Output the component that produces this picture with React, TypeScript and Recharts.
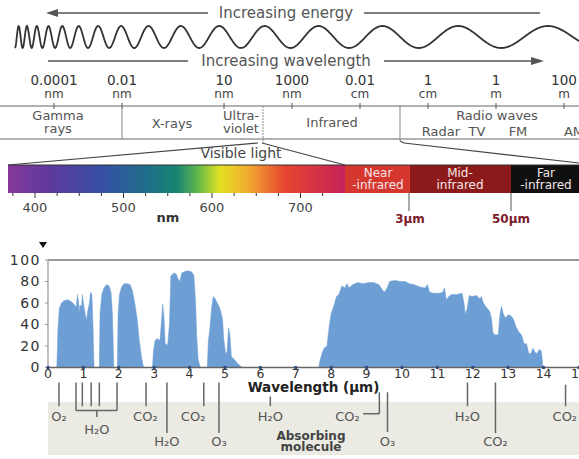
import React from "react";
import { AreaChart, Area, XAxis, YAxis, ReferenceLine, ReferenceDot } from "recharts";

// atmospheric transmission
const wavelengthUm = [
  0, 0.25, 0.28, 0.32, 0.38, 0.45, 0.55, 0.62, 0.7, 0.78, 0.8, 0.83, 0.86, 0.88, 0.9, 0.95, 0.97, 1.0,
  1.05, 1.09, 1.12, 1.17, 1.2, 1.24, 1.27, 1.3, 1.45, 1.47, 1.52, 1.58, 1.65, 1.72, 1.78, 1.82, 1.86,
  1.96, 1.98, 2.02, 2.08, 2.15, 2.25, 2.32, 2.38, 2.45, 2.52, 2.58, 2.65, 2.7, 2.95, 2.98, 3.02, 3.1,
  3.16, 3.2, 3.24, 3.28, 3.31, 3.38, 3.43, 3.47, 3.55, 3.62, 3.68, 3.72, 3.78, 3.85, 3.95, 4.05, 4.12,
  4.17, 4.2, 4.24, 4.3, 4.5, 4.53, 4.57, 4.62, 4.67, 4.72, 4.78, 4.83, 4.88, 4.93, 4.97, 5.02, 5.06,
  5.1, 5.14, 5.18, 5.25, 5.35, 5.45, 5.5, 7.65, 7.68, 7.75, 7.8, 7.88, 7.95, 8.0, 8.08, 8.15, 8.22,
  8.3, 8.38, 8.45, 8.5, 8.6, 8.75, 8.9, 9.05, 9.2, 9.35, 9.45, 9.5, 9.58, 9.65, 9.8, 9.95, 10.1, 10.2,
  10.35, 10.5, 10.65, 10.72, 10.78, 10.9, 11.05, 11.15, 11.2, 11.25, 11.32, 11.4, 11.55, 11.7, 11.75,
  11.79, 11.84, 11.9, 11.98, 12.1, 12.2, 12.24, 12.3, 12.38, 12.48, 12.53, 12.57, 12.65, 12.72, 12.77,
  12.81, 12.86, 12.92, 13.0, 13.08, 13.15, 13.22, 13.3, 13.38, 13.45, 13.52, 13.58, 13.64, 13.7, 13.76,
  13.82, 13.88, 13.94, 13.98, 15,
];
const transmissionPct = [
  0, 0, 35, 55, 60, 62, 63, 62, 60, 57, 56, 68, 62, 50, 58, 57, 68, 60,
  50, 44, 52, 60, 70, 68, 40, 0, 0, 50, 68, 74, 77, 76, 70, 50, 0,
  0, 50, 68, 75, 78, 78, 77, 72, 60, 45, 25, 8, 0, 0, 15, 25, 27,
  25, 40, 59, 45, 22, 21, 40, 85, 88, 87, 82, 80, 88, 89, 90, 89, 86,
  60, 30, 8, 0, 0, 25, 35, 55, 66, 64, 60, 57, 52, 45, 25, 12, 15,
  37, 30, 10, 8, 4, 1, 0, 0, 6, 14, 18, 20, 40, 50, 58, 66, 68,
  76, 74, 78, 74, 77, 79, 78, 79, 79, 77, 72, 70, 74, 80, 81, 80, 80, 78,
  77, 75, 74, 77, 70, 69, 69, 70, 74, 63, 66, 68, 68, 69, 60,
  49, 55, 67, 66, 67, 64, 66, 60, 56, 52, 45, 32, 30, 31, 50,
  57, 50, 46, 49, 48, 45, 38, 33, 30, 22, 22, 13, 13, 18, 14,
  13, 17, 15, 0, 0,
];
const xTicks = [0, 1, 2, 3, 4, 5, 6, 7, 8, 9, 10, 11, 12, 13, 14, 15];
const yTicks = [0, 20, 40, 60, 80, 100];

// absorbing molecules (wavelength in µm, vertical extent in axis units below 0)
const absorbLines = [
  { x: 0.31, from: -14, to: -36 },
  { x: 0.79, from: -14, to: -40 },
  { x: 0.97, from: -14, to: -36 },
  { x: 1.22, from: -14, to: -36 },
  { x: 1.45, from: -14, to: -36 },
  { x: 1.95, from: -14, to: -40 },
  { x: 2.77, from: -14, to: -36 },
  { x: 3.36, from: -14, to: -61 },
  { x: 4.4, from: -14, to: -36 },
  { x: 4.83, from: -14, to: -61 },
  { x: 6.28, from: -27, to: -36 },
  { x: 9.36, from: -23, to: -43 },
  { x: 9.59, from: -23, to: -60 },
  { x: 11.85, from: -14, to: -36 },
  { x: 12.64, from: -14, to: -61 },
  { x: 14.62, from: -16, to: -36 },
];
const absorbLabels = [
  { x: 0.31, y: -46, name: "O₂" },
  { x: 1.38, y: -58, name: "H₂O" },
  { x: 2.75, y: -46, name: "CO₂" },
  { x: 3.36, y: -69, name: "H₂O" },
  { x: 4.1, y: -46, name: "CO₂" },
  { x: 4.83, y: -69, name: "O₃" },
  { x: 6.28, y: -46, name: "H₂O" },
  { x: 8.46, y: -46, name: "CO₂" },
  { x: 9.59, y: -69, name: "O₃" },
  { x: 11.85, y: -46, name: "H₂O" },
  { x: 12.64, y: -69, name: "CO₂" },
  { x: 14.6, y: -46, name: "CO₂" },
];

// electromagnetic spectrum scale (log10 of metres)
const spectrumTicks = [
  { e: -13, v: "0.0001", u: "nm" },
  { e: -11, v: "0.01", u: "nm" },
  { e: -8, v: "10", u: "nm" },
  { e: -6, v: "1000", u: "nm" },
  { e: -4, v: "0.01", u: "cm" },
  { e: -2, v: "1", u: "cm" },
  { e: 0, v: "1", u: "m" },
  { e: 2, v: "100", u: "m" },
];
const visibleTicksNm = [400, 500, 600, 700];

const data = wavelengthUm.map((x, i) => ({ x, t: transmissionPct[i] }));

const logX = (e: number) => 54 + (e + 13) * 34;
const nmX = (nm: number) => 35 + (nm - 400) * 0.885;

function wavePath() {
  const pts: string[] = [];
  for (let x = 15; x <= 579; x += 0.5) {
    const lam = 7 + 0.17 * (x - 15);
    const ph = ((2 * Math.PI) / 0.17) * Math.log(lam / 7);
    const y = 37 + 11 * Math.cos(ph);
    pts.push(`${x.toFixed(1)},${y.toFixed(2)}`);
  }
  return "M" + pts.join(" L");
}

function Diagram() {
  const minor: number[] = [];
  for (let nm = 375; nm <= 725; nm += 25) minor.push(nm);
  return (
    <svg width={579} height={459} style={{ position: "absolute", left: 0, top: 0 }}>
      <defs>
        <linearGradient id="vis" x1="0" x2="1" y1="0" y2="0">
          <stop offset="0" stopColor="#86389a" />
          <stop offset="0.12" stopColor="#5e3a9c" />
          <stop offset="0.28" stopColor="#3650a6" />
          <stop offset="0.4" stopColor="#206b8c" />
          <stop offset="0.5" stopColor="#178472" />
          <stop offset="0.56" stopColor="#5db54e" />
          <stop offset="0.63" stopColor="#e4e121" />
          <stop offset="0.72" stopColor="#f2a431" />
          <stop offset="0.82" stopColor="#e6452f" />
          <stop offset="1" stopColor="#c5225a" />
        </linearGradient>
      </defs>

      {/* energy / wavelength arrows */}
      <line x1={54} y1={13} x2={208} y2={13} stroke="#555" strokeWidth={1.6} />
      <polygon points="46,13 58,9 58,17" fill="#555" />
      <text x={286} y={18} textAnchor="middle" fontSize={15} fill="#555">Increasing energy</text>
      <line x1={364} y1={13} x2={540} y2={13} stroke="#555" strokeWidth={1.6} />
      <path d={wavePath()} fill="none" stroke="#333" strokeWidth={1.8} />
      <line x1={48} y1={61} x2={188} y2={61} stroke="#555" strokeWidth={1.6} />
      <text x={286} y={66} textAnchor="middle" fontSize={15} fill="#555">Increasing wavelength</text>
      <line x1={384} y1={61} x2={534} y2={61} stroke="#555" strokeWidth={1.6} />
      <polygon points="544,61 531,57 531,65" fill="#555" />

      {/* wavelength scale */}
      {spectrumTicks.map((t) => (
        <g key={t.e}>
          <text x={logX(t.e)} y={85} textAnchor="middle" fontSize={13.5} fill="#333">{t.v}</text>
          <text x={logX(t.e)} y={98} textAnchor="middle" fontSize={12} fill="#444">{t.u}</text>
          <line x1={logX(t.e)} y1={103} x2={logX(t.e)} y2={109} stroke="#555" />
        </g>
      ))}
      <line x1={0} y1={106} x2={579} y2={106} stroke="#666" strokeWidth={1.2} />
      <line x1={0} y1={139} x2={579} y2={139} stroke="#666" strokeWidth={1.2} />
      <line x1={122} y1={106} x2={122} y2={139} stroke="#888" />
      <line x1={263} y1={106} x2={263} y2={143} stroke="#888" strokeDasharray="2 1" />
      <line x1={400} y1={106} x2={400} y2={141} stroke="#888" />

      <g fontSize={13} fill="#555">
        <text x={58} y={120} textAnchor="middle">Gamma</text>
        <text x={58} y={133} textAnchor="middle">rays</text>
        <text x={172} y={128} textAnchor="middle">X-rays</text>
        <text x={223} y={120}>Ultra-</text>
        <text x={223} y={133}>violet</text>
        <text x={332} y={127} textAnchor="middle">Infrared</text>
        <text x={497} y={120} textAnchor="middle">Radio waves</text>
        <text x={441} y={136} textAnchor="middle">Radar</text>
        <text x={477} y={136} textAnchor="middle">TV</text>
        <text x={518} y={136} textAnchor="middle">FM</text>
        <text x={574} y={136} textAnchor="middle">AM</text>
      </g>

      {/* visible light zoom */}
      <line x1={258} y1={143} x2={8} y2={165} stroke="#444" strokeWidth={1.2} />
      <line x1={262} y1={143} x2={345} y2={165} stroke="#444" strokeWidth={1.2} />
      <polyline points="400,141 404,143 579,163" fill="none" stroke="#444" strokeWidth={1.2} />
      <text x={241} y={158} textAnchor="middle" fontSize={14} fill="#444">Visible light</text>

      <rect x={8} y={165} width={337} height={28} fill="url(#vis)" />
      <rect x={345} y={165} width={65} height={28} fill="#d5372f" />
      <rect x={410} y={165} width={101} height={28} fill="#8d1a1a" />
      <rect x={511} y={165} width={68} height={28} fill="#101010" />
      <line x1={8} y1={165} x2={579} y2={165} stroke="#333" strokeWidth={1.2} />
      <g fontSize={12} fill="#f4e6e6" textAnchor="middle">
        <text x={378} y={177}>Near</text>
        <text x={378} y={189}>-infrared</text>
        <text x={460} y={177}>Mid-</text>
        <text x={460} y={189}>infrared</text>
        <text x={546} y={177}>Far</text>
        <text x={546} y={189}>-infrared</text>
      </g>
      {minor.map((nm) => (
        <line key={nm} x1={nmX(nm)} y1={193} x2={nmX(nm)} y2={nm % 100 === 0 ? 198 : 196} stroke="#333" />
      ))}
      {visibleTicksNm.map((nm) => (
        <text key={nm} x={nmX(nm)} y={212} textAnchor="middle" fontSize={13} fill="#444">{nm}</text>
      ))}
      <text x={168} y={222} textAnchor="middle" fontSize={13} fontWeight={700} fill="#333">nm</text>
      <line x1={409} y1={193} x2={409} y2={211} stroke="#555" />
      <line x1={511} y1={193} x2={511} y2={211} stroke="#555" />
      <text x={410} y={223} textAnchor="middle" fontSize={12} fontWeight={700} fill="#7b1c2c">3µm</text>
      <text x={511} y={223} textAnchor="middle" fontSize={12} fontWeight={700} fill="#7b1c2c">50µm</text>

      {/* lower panel decorations */}
      <polygon points="39,242 47,242 43,248" fill="#111" />
      <rect x={48} y={402} width={531} height={53} fill="#ebebe4" />
      <text x={311} y={440} textAnchor="middle" fontSize={12} fontWeight={700} fill="#444">Absorbing</text>
      <text x={311} y={451} textAnchor="middle" fontSize={12} fontWeight={700} fill="#444">molecule</text>
    </svg>
  );
}

function XTick(props: any) {
  const { x, y, payload } = props;
  return (
    <g>
      <circle cx={x} cy={y} r={1.7} fill="#2f4b78" />
      <text x={x} y={y + 10} textAnchor="middle" fontSize={12.5} fill="#333">{payload.value}</text>
    </g>
  );
}

function MolLabel(props: any) {
  const { cx, cy, name } = props;
  return (
    <text x={cx} y={cy} textAnchor="middle" dominantBaseline="central" fontSize={13} fill="#555">
      {name}
    </text>
  );
}

export default function App() {
  return (
    <div
      style={{
        position: "absolute",
        left: 0,
        top: 0,
        width: 579,
        height: 459,
        overflow: "hidden",
        background: "#fff",
        fontFamily: "'DejaVu Sans', sans-serif",
      }}
    >
      <Diagram />
      <div style={{ position: "absolute", left: 0, top: 0 }}>
        <AreaChart width={579} height={459} data={data} margin={{ top: 260, right: 0, bottom: 67.5, left: 0 }}>
          <XAxis
            dataKey="x"
            type="number"
            domain={[0, 15]}
            ticks={xTicks}
            allowDataOverflow
            interval={0}
            height={24}
            tickSize={0}
            tickMargin={0}
            tick={<XTick />}
            axisLine={{ stroke: "#666", strokeWidth: 1.5 }}
            label={{ value: "Wavelength (µm)", position: "insideBottom", offset: 0, fontWeight: 700, fontSize: 13.5, fill: "#222" }}
          />
          <YAxis
            type="number"
            domain={[0, 100]}
            ticks={yTicks}
            allowDataOverflow
            width={48}
            tickSize={3}
            tickMargin={4}
            tick={{ fill: "#333", fontSize: 14, letterSpacing: 1.5 }}
            tickLine={{ stroke: "#999" }}
            axisLine={{ stroke: "#aaa", strokeWidth: 1.5 }}
          />
          <ReferenceLine y={100} stroke="#9a9a9a" strokeWidth={2} ifOverflow="visible" />
          <Area
            type="linear"
            dataKey="t"
            stroke="#6d9fd5"
            strokeWidth={0.5}
            fill="#6d9fd5"
            fillOpacity={1}
            isAnimationActive={false}
          />
          {absorbLines.map((l, i) => (
            <ReferenceLine
              key={"l" + i}
              segment={[{ x: l.x, y: l.from }, { x: l.x, y: l.to }]}
              stroke="#666"
              strokeWidth={1.5}
              ifOverflow="visible"
            />
          ))}
          <ReferenceLine segment={[{ x: 0.79, y: -40 }, { x: 1.95, y: -40 }]} stroke="#666" strokeWidth={1.5} ifOverflow="visible" />
          <ReferenceLine segment={[{ x: 1.38, y: -40 }, { x: 1.38, y: -46 }]} stroke="#666" strokeWidth={1.5} ifOverflow="visible" />
          <ReferenceLine segment={[{ x: 8.9, y: -43 }, { x: 9.36, y: -43 }]} stroke="#666" strokeWidth={1.5} ifOverflow="visible" />
          {absorbLabels.map((m, i) => (
            <ReferenceDot
              key={"m" + i}
              x={m.x}
              y={m.y}
              r={0}
              ifOverflow="visible"
              shape={(p: any) => <MolLabel {...p} name={m.name} />}
            />
          ))}
        </AreaChart>
      </div>
    </div>
  );
}
